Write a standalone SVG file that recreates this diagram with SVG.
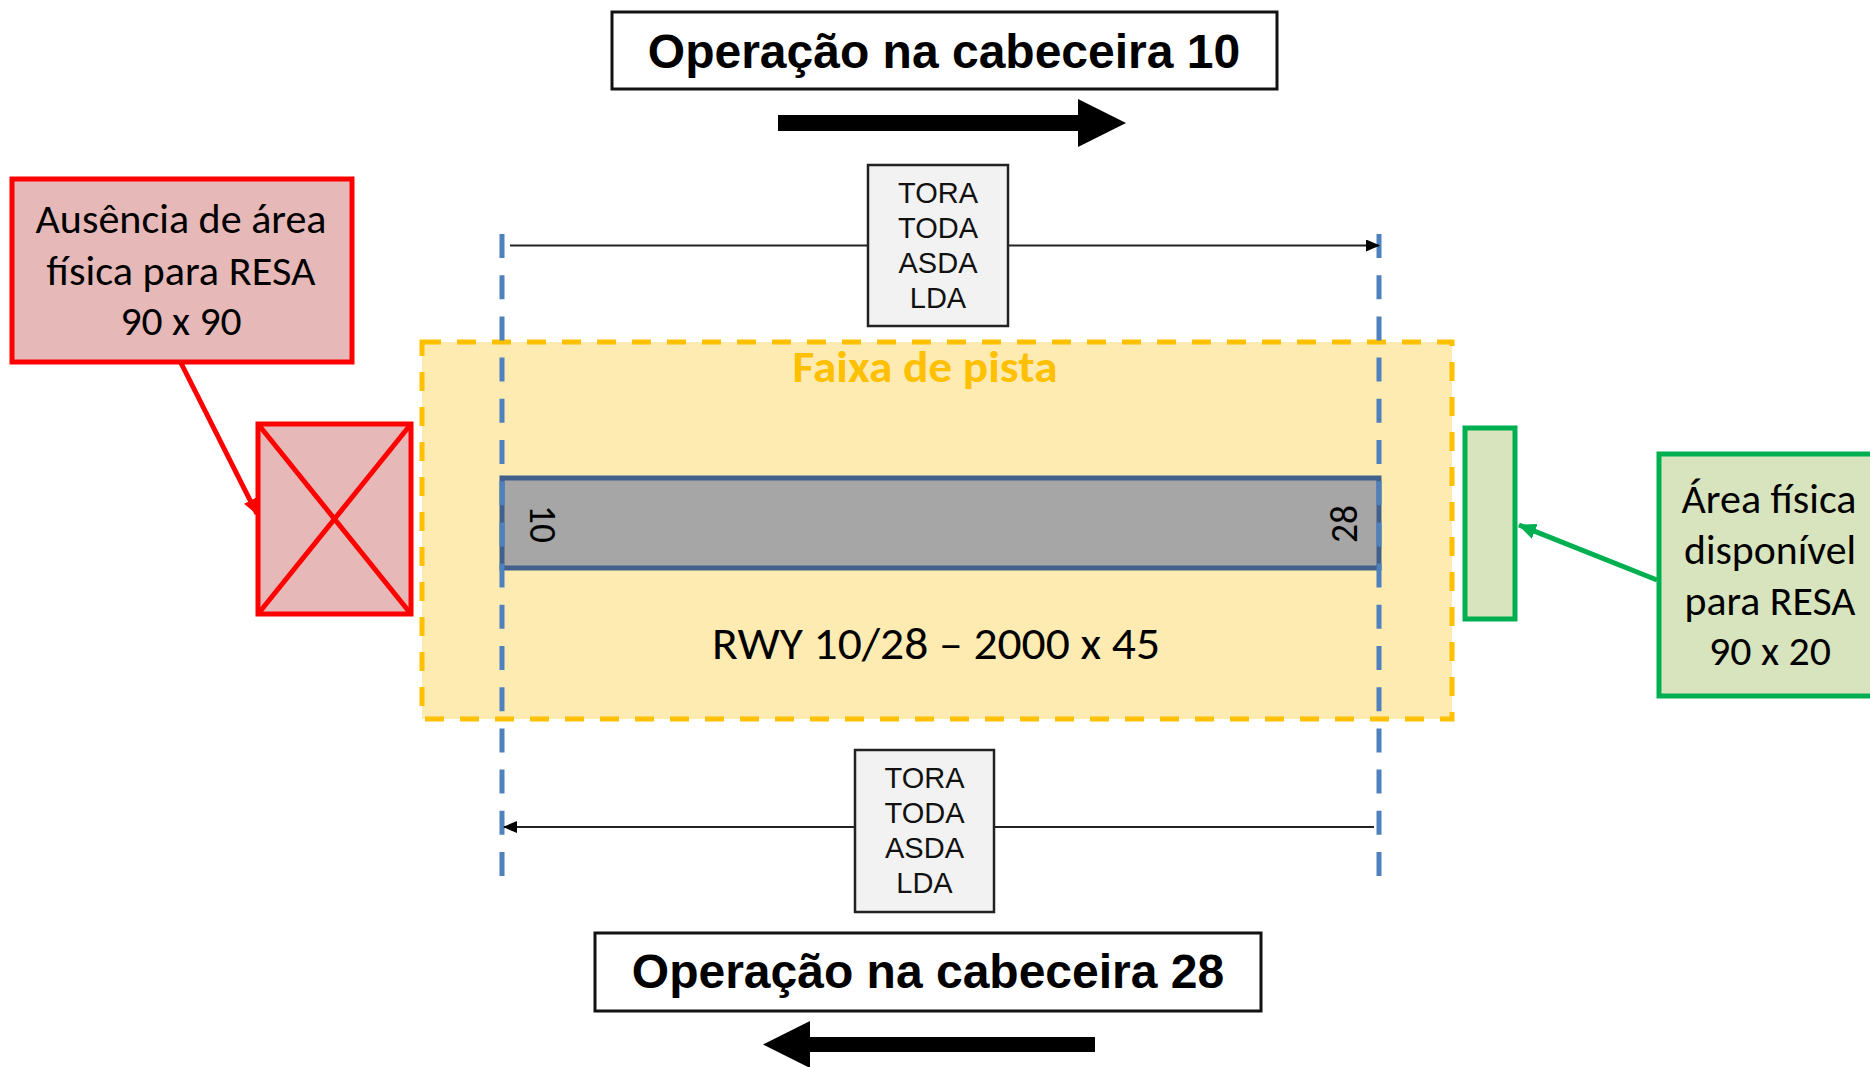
<svg xmlns="http://www.w3.org/2000/svg" width="1870" height="1067" viewBox="0 0 1870 1067">
<defs>
<style>
.title{font-family:"Liberation Sans",Arial,sans-serif;font-weight:bold;font-size:48px;fill:#000;text-anchor:middle}
.dist{font-family:"Liberation Sans",Arial,sans-serif;font-size:29px;fill:#111;text-anchor:middle}
.cal{font-family:Carlito,Calibri,Lato,"Open Sans",sans-serif;fill:#000;text-anchor:middle}
.box{fill:#fff;stroke:#111;stroke-width:3}
.dbox{fill:#f2f2f2;stroke:#222;stroke-width:2.5}
.dim{stroke:#222;stroke-width:2;fill:none}
.blue{stroke:#4f81bd;stroke-width:5;stroke-dasharray:24 17.2;fill:none}
.red{stroke:#ff0000;stroke-width:5}
.green{stroke:#00b050;stroke-width:5}
</style>
<marker id="ak" markerUnits="userSpaceOnUse" markerWidth="14" markerHeight="12" refX="13" refY="6" orient="auto">
<path d="M0,0 L14,6 L0,12 z" fill="#000"/>
</marker>
<marker id="ar" markerUnits="userSpaceOnUse" markerWidth="16" markerHeight="14" refX="15" refY="7" orient="auto">
<path d="M0,0 L16,7 L0,14 z" fill="#ff0000"/>
</marker>
<marker id="ag" markerUnits="userSpaceOnUse" markerWidth="18" markerHeight="16" refX="17" refY="8" orient="auto">
<path d="M0,0 L18,8 L0,16 z" fill="#00b050"/>
</marker>
</defs>
<rect width="1870" height="1067" fill="#fff"/>

<g id="faixa">
<rect x="422" y="342" width="1030" height="377" fill="#fdebb2" stroke="#ffc000" stroke-width="5" stroke-dasharray="19 16"/>
<text x="925" y="382" class="cal" font-weight="bold" font-size="44" style="fill:#ffc000" textLength="265" lengthAdjust="spacingAndGlyphs">Faixa de pista</text>
</g>

<g id="runway">
<rect x="502" y="478" width="877" height="90" fill="#a6a6a6" stroke="#41608c" stroke-width="5"/>
<text class="cal" font-size="38" transform="translate(530,524) rotate(90)" textLength="38" lengthAdjust="spacingAndGlyphs">10</text>
<text class="cal" font-size="38" transform="translate(1357,524) rotate(-90)" textLength="38" lengthAdjust="spacingAndGlyphs">28</text>
<text x="936" y="659" class="cal" font-size="46" textLength="448" lengthAdjust="spacingAndGlyphs">RWY 10/28 – 2000 x 45</text>
</g>

<g id="connectors">
<line x1="502" y1="234" x2="502" y2="877" class="blue"/>
<line x1="1379" y1="234" x2="1379" y2="877" class="blue"/>
<line x1="510" y1="245.5" x2="1379" y2="245.5" class="dim" marker-end="url(#ak)"/>
<line x1="1374" y1="827" x2="504" y2="827" class="dim" marker-end="url(#ak)"/>
<line x1="181" y1="363" x2="257" y2="514" class="red" stroke-width="4" marker-end="url(#ar)"/>
<line x1="1657" y1="580" x2="1519" y2="525" class="green" stroke-width="4" marker-end="url(#ag)"/>
<path d="M778,115 L1078,115 L1078,99 L1126,123 L1078,147 L1078,131 L778,131 Z" fill="#000"/>
<path d="M1095,1037 L810,1037 L810,1021 L763,1044.5 L810,1068 L810,1052 L1095,1052 Z" fill="#000"/>
</g>

<g id="title10">
<rect x="612" y="12" width="665" height="77" class="box"/>
<text x="944" y="68" class="title">Operação na cabeceira 10</text>
</g>

<g id="title28">
<rect x="595" y="933" width="666" height="78" class="box"/>
<text x="928" y="988" class="title">Operação na cabeceira 28</text>
</g>

<g id="dist10">
<rect x="868" y="165" width="140" height="161" class="dbox"/>
<text class="dist" x="938" y="203">TORA</text>
<text class="dist" x="938" y="238">TODA</text>
<text class="dist" x="938" y="273">ASDA</text>
<text class="dist" x="938" y="308">LDA</text>
</g>

<g id="dist28">
<rect x="855" y="750" width="139" height="162" class="dbox"/>
<text class="dist" x="924.5" y="788">TORA</text>
<text class="dist" x="924.5" y="823">TODA</text>
<text class="dist" x="924.5" y="858">ASDA</text>
<text class="dist" x="924.5" y="893">LDA</text>
</g>

<g id="redLabel">
<rect x="12" y="179" width="340" height="183" fill="#e6b8b7" class="red"/>
<text class="cal" font-size="41" x="181" y="233" textLength="291" lengthAdjust="spacingAndGlyphs">Ausência de área</text>
<text class="cal" font-size="41" x="181" y="285" textLength="269" lengthAdjust="spacingAndGlyphs">física para RESA</text>
<text class="cal" font-size="41" x="181" y="335" textLength="121" lengthAdjust="spacingAndGlyphs">90 x 90</text>
</g>

<g id="redResa">
<rect x="258" y="424" width="153" height="190" fill="#e6b8b7" class="red"/>
<line x1="258" y1="424" x2="411" y2="614" class="red"/>
<line x1="411" y1="424" x2="258" y2="614" class="red"/>
</g>

<g id="greenResa">
<rect x="1465" y="428" width="50" height="191" fill="#d7e4bd" class="green"/>
</g>

<g id="greenLabel">
<rect x="1659" y="454" width="230" height="242" fill="#d7e4bd" class="green"/>
<text class="cal" font-size="41" x="1769" y="513" textLength="175" lengthAdjust="spacingAndGlyphs">Área física</text>
<text class="cal" font-size="41" x="1770" y="564" textLength="172" lengthAdjust="spacingAndGlyphs">disponível</text>
<text class="cal" font-size="41" x="1770" y="615" textLength="171" lengthAdjust="spacingAndGlyphs">para RESA</text>
<text class="cal" font-size="41" x="1770" y="665" textLength="122" lengthAdjust="spacingAndGlyphs">90 x 20</text>
</g>
</svg>
